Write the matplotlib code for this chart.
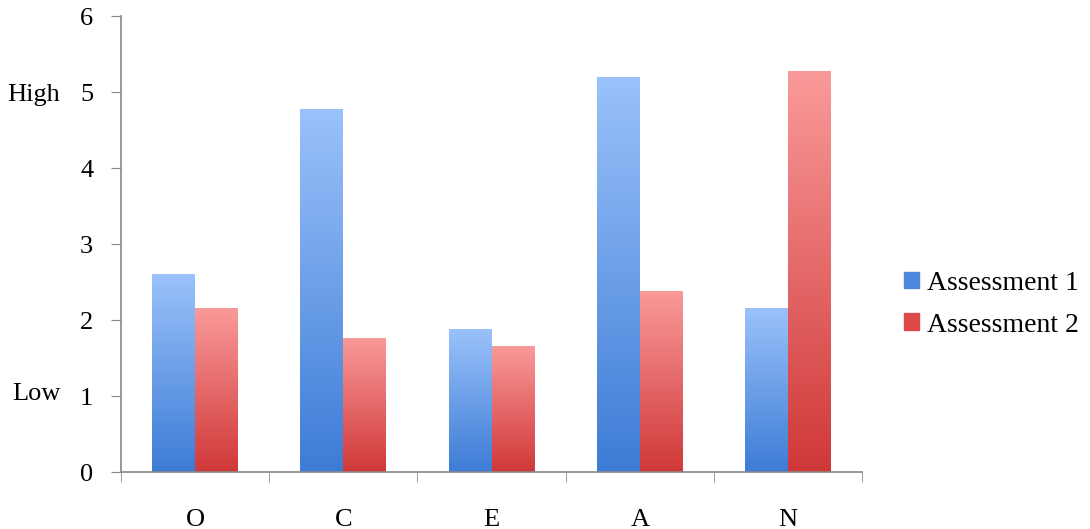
import numpy as np
import matplotlib.pyplot as plt
from matplotlib.colors import LinearSegmentedColormap
from matplotlib.transforms import blended_transform_factory

categories = ['O', 'C', 'E', 'A', 'N']
assessment1 = [2.61, 4.78, 1.89, 5.20, 2.16]
assessment2 = [2.16, 1.77, 1.66, 2.39, 5.28]
series_names = ['Assessment 1', 'Assessment 2']

blue_cmap = LinearSegmentedColormap.from_list('b', ['#3d7cd6', '#9bc2fa'])
red_cmap = LinearSegmentedColormap.from_list('r', ['#d03838', '#fa9a9a'])

plt.rcParams['font.family'] = ['Liberation Serif', 'DejaVu Serif']

fig = plt.figure(figsize=(10.9, 5.29), dpi=100)
ax = fig.add_axes([0.111, 0.107, 0.68, 0.862])

x = np.arange(len(categories))
w = 0.29
b1 = ax.bar(x - w / 2, assessment1, w, color='#6f9ee8', label=series_names[0])
b2 = ax.bar(x + w / 2, assessment2, w, color='#e86a6a', label=series_names[1])

grad = np.linspace(0, 1, 256).reshape(-1, 1)
for bars, cmap in [(b1, blue_cmap), (b2, red_cmap)]:
    for p in bars:
        x0, y0 = p.get_x(), p.get_y()
        im = ax.imshow(grad, cmap=cmap, origin='lower', aspect='auto',
                       extent=(x0, x0 + p.get_width(), y0, y0 + p.get_height()),
                       zorder=p.get_zorder())
        im.set_clip_path(p)
        p.set_facecolor('none')
        p.set_edgecolor('none')

ax.set_xlim(-0.5, len(categories) - 0.5)
ax.set_ylim(0, 6)
ax.set_yticks(range(7))
ax.set_xticks(x)
ax.set_xticklabels(categories)
ax.set_xticks(np.arange(len(categories) + 1) - 0.5, minor=True)
ax.tick_params(axis='x', which='major', length=0, pad=26, labelsize=19)
ax.tick_params(axis='x', which='minor', length=7, color='#888888', direction='out')
ax.tick_params(axis='y', length=7, color='#888888', pad=13, labelsize=19)

for s in ['top', 'right']:
    ax.spines[s].set_visible(False)
for s in ['left', 'bottom']:
    ax.spines[s].set_color('#888888')
    ax.spines[s].set_linewidth(1.2)

tr = blended_transform_factory(fig.transFigure, ax.transData)
ax.text(0.007, 4.97, 'High', transform=tr, ha='left', va='center', fontsize=19)
ax.text(0.011, 1.03, 'Low', transform=tr, ha='left', va='center', fontsize=19)

h1 = plt.Rectangle((0, 0), 1, 1, color='#4d86da')
h2 = plt.Rectangle((0, 0), 1, 1, color='#dd4a4a')
fig.legend([h1, h2], series_names, loc='center left', bbox_to_anchor=(0.829, 0.425),
           frameon=False, fontsize=20, handlelength=0.55, handleheight=0.55,
           handletextpad=0.3, labelspacing=0.6, borderpad=0, borderaxespad=0)

fig.savefig('out.png', dpi=100)
